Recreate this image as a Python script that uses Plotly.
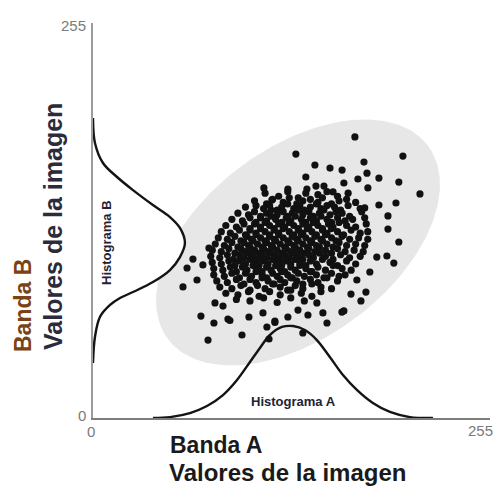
import numpy as np
import plotly.graph_objects as go

# ---------------- data (0-255 image values) ----------------
tick_labels = ["0", "255"]
axis_max = 255

# Histogram A (band A values vs. frequency, drawn along the bottom)
hist_a_x = [39.7, 51, 64.2, 75.5, 86.1, 95.4, 104, 110.6, 117.2, 125.2, 132.5, 140.4,
            148.3, 156.9, 165.6, 174.8, 185.4, 196.7, 210, 225.2]
hist_a_y = [0, 0.6, 3.2, 7.8, 14.9, 24.7, 36.4, 45.5, 53.9, 59.1, 59.7, 57.1,
            50.6, 39.6, 27.9, 18.2, 9.7, 3.9, 0.6, 0]

# Histogram B (band B values vs. frequency, drawn along the left side)
hist_b_y = [194.8, 178.6, 165.6, 156.5, 148, 138.3, 130.5, 123.4, 113.6, 104.5, 96.1,
            88.3, 81.8, 77.9, 73.4, 65.6, 52.6, 35.7]
hist_b_x = [0, 1.3, 6.6, 15.9, 26.5, 39.7, 51, 57.6, 60.9, 57.6, 51,
            39.7, 26.5, 17.9, 11.3, 4.6, 1.3, 0]

# Sparse pixels around the cluster
outer_x = [173.5, 134.4, 205.3, 147, 179.5, 157, 165, 181.5, 141, 189.4, 175.5, 202.6,
           113.2, 129.1, 141.7, 147.7, 153, 166.2, 182.1, 216.6, 200.7, 189.4, 118.5, 159,
           195.4, 202.6, 195.4, 188, 194.7, 199.3, 183.4, 174.8, 180.8, 177.5, 170.9, 166.2,
           180, 76.8, 66.2, 62.3, 59.6, 71.5, 80.1, 76.2, 98.7, 103.3, 89.4, 86.1, 80.8,
           68.9, 72.8, 112.6, 120.5, 115.2, 129.1, 135.8, 142.4, 152.3, 155, 164.9, 148.3,
           116.6, 139, 90.7, 120.5]
outer_y = [182.5, 171.4, 170.1, 164.3, 166.2, 162.3, 161, 159, 156.5, 155.8, 155.2, 153.2,
           149.4, 148.7, 148.7, 150.6, 150.6, 152.6, 149.4, 145.5, 139.6, 138.3, 141.6, 146.8,
           131.2, 114.3, 122.7, 104.5, 105.2, 100.6, 94.8, 89.6, 81.8, 76, 80.5, 69.5,
           136.4, 110.4, 103.2, 97.4, 85.1, 66.2, 61.7, 50.6, 53.9, 65.6, 64.3, 72.7, 74.7,
           89.6, 99.4, 68.2, 63, 59.1, 65.6, 70.1, 66.9, 68.2, 61.7, 68.8, 74.7,
           51.3, 55.2, 63.3, 62]

# Dense core of the cluster, row by row
core_x_rows = [
    [114, 123, 129, 136, 141, 149, 155, 162, 169],
    [107, 115, 119, 126, 130, 135, 139, 144, 149, 152, 158, 163, 168, 174],
    [101, 108, 113, 117, 122, 125, 129, 133, 137, 140, 144, 148, 151, 155, 160, 164, 169, 177],
    [96, 103, 107, 111, 115, 118, 122, 126, 129, 132, 136, 139, 143, 146, 150, 153, 157, 161, 165, 170, 178],
    [92, 99, 104, 108, 111, 115, 118, 121, 125, 128, 131, 134, 138, 141, 144, 148, 151, 155, 158, 162, 167, 172, 180],
    [88, 95, 100, 104, 107, 111, 114, 117, 120, 123, 127, 130, 133, 136, 139, 143, 146, 149, 152, 156, 159, 163, 168, 174, 181],
    [85, 91, 97, 101, 104, 108, 111, 114, 117, 120, 123, 126, 130, 133, 136, 139, 142, 145, 148, 152, 155, 158, 162, 166, 171, 177, 182],
    [83, 89, 94, 98, 102, 105, 108, 111, 114, 117, 120, 123, 126, 129, 132, 135, 138, 141, 144, 147, 151, 154, 158, 161, 165, 170, 176, 182],
    [81, 87, 92, 96, 100, 103, 106, 109, 112, 115, 118, 121, 124, 127, 130, 133, 136, 139, 142, 145, 148, 152, 155, 159, 163, 168, 174, 180],
    [79, 85, 90, 94, 98, 101, 104, 107, 110, 113, 116, 119, 122, 125, 128, 131, 134, 137, 140, 143, 147, 150, 154, 158, 162, 167, 173, 179],
    [78, 84, 89, 93, 97, 100, 103, 106, 109, 112, 115, 118, 121, 124, 127, 130, 133, 136, 139, 143, 146, 150, 154, 159, 164, 170, 177],
    [79, 85, 90, 94, 97, 101, 104, 107, 110, 113, 116, 119, 122, 125, 128, 131, 134, 137, 141, 144, 148, 152, 157, 162, 168, 174],
    [80, 86, 91, 95, 99, 102, 106, 109, 112, 115, 118, 121, 124, 127, 131, 134, 137, 141, 145, 149, 154, 159, 165, 171],
    [80, 87, 92, 97, 101, 105, 108, 112, 115, 119, 122, 125, 129, 132, 136, 140, 144, 148, 153, 158, 163, 167],
    [82, 89, 95, 100, 104, 108, 112, 116, 120, 124, 127, 131, 135, 139, 144, 149, 155, 162],
    [84, 92, 98, 104, 109, 114, 119, 124, 129, 134, 139, 145, 151, 158],
    [88, 96, 103, 110, 117, 124, 131, 138, 145, 151],
    [95, 104, 113, 122, 131, 140],
]
core_y_rows = [
    [146, 144, 147, 143, 146, 145, 147, 144, 146],
    [141, 139, 142, 140, 143, 139, 141, 142, 140, 143, 139, 141, 142, 140],
    [137, 138, 136, 138, 135, 137, 139, 136, 138, 135, 137, 139, 136, 138, 137, 135, 138, 136],
    [133, 132, 134, 131, 133, 135, 132, 134, 131, 133, 135, 132, 134, 131, 133, 135, 132, 134, 133, 131, 134],
    [129, 128, 130, 127, 130, 128, 131, 129, 127, 130, 128, 131, 129, 127, 130, 128, 131, 129, 127, 130, 128, 129, 130],
    [125, 124, 126, 123, 126, 124, 127, 125, 123, 126, 124, 127, 125, 123, 126, 124, 127, 125, 123, 126, 124, 127, 125, 124, 126],
    [121, 120, 122, 119, 122, 120, 123, 121, 119, 122, 120, 123, 121, 119, 122, 120, 123, 121, 119, 122, 120, 123, 121, 119, 122, 120, 121],
    [117, 116, 118, 115, 118, 116, 119, 117, 115, 118, 116, 119, 117, 115, 118, 116, 119, 117, 115, 118, 116, 119, 117, 115, 118, 116, 117, 116],
    [113, 112, 114, 111, 114, 112, 115, 113, 111, 114, 112, 115, 113, 111, 114, 112, 115, 113, 111, 114, 112, 115, 113, 111, 114, 112, 113, 112],
    [109, 108, 110, 107, 110, 108, 111, 109, 107, 110, 108, 111, 109, 107, 110, 108, 111, 109, 107, 110, 108, 111, 109, 107, 110, 108, 109, 108],
    [105, 104, 106, 103, 106, 104, 107, 105, 103, 106, 104, 107, 105, 103, 106, 104, 107, 105, 103, 106, 104, 107, 105, 103, 106, 104, 105],
    [101, 100, 102, 99, 102, 100, 103, 101, 99, 102, 100, 103, 101, 99, 102, 100, 103, 101, 99, 102, 100, 103, 101, 99, 102, 100],
    [97, 96, 98, 95, 98, 96, 99, 97, 95, 98, 96, 99, 97, 95, 98, 96, 99, 97, 95, 98, 96, 99, 97, 96],
    [93, 92, 94, 91, 94, 92, 95, 93, 91, 94, 92, 95, 93, 91, 94, 92, 95, 93, 91, 94, 92, 93],
    [89, 88, 90, 87, 90, 88, 91, 89, 87, 90, 88, 91, 89, 87, 90, 88, 91, 89],
    [85, 84, 86, 83, 86, 84, 87, 85, 83, 86, 84, 87, 85, 84],
    [81, 80, 82, 79, 82, 80, 83, 81, 79, 82],
    [77, 76, 78, 75, 78, 76],
]
core_x = [v for row in core_x_rows for v in row]
core_y = [v for row in core_y_rows for v in row]

# ---------------- styling / geometry ----------------
W, H = 495, 487
ML, MT = 93, 23
MR = W - 490
MB = H - 418
X_RANGE = [0, 263]
Y_RANGE = [0, 256.5]
PW, PH = W - ML - MR, H - MT - MB
sx = PW / (X_RANGE[1] - X_RANGE[0])   # px per unit
sy = PH / (Y_RANGE[1] - Y_RANGE[0])

FONT = "Liberation Sans, Arial, sans-serif"

# Light-grey ellipse behind the cluster (parameters in pixels)
ell_cx, ell_cy = 135.8, 114.0
ell_a, ell_b, ell_ang = 162, 95, np.deg2rad(36.5)
t = np.linspace(0, 2 * np.pi, 240)
u, v = ell_a * np.cos(t), ell_b * np.sin(t)
ell_x = ell_cx + (u * np.cos(ell_ang) - v * np.sin(ell_ang)) / sx
ell_y = ell_cy + (u * np.sin(ell_ang) + v * np.cos(ell_ang)) / sy

fig = go.Figure()

fig.add_trace(go.Scatter(x=ell_x, y=ell_y, mode="lines", fill="toself",
                         fillcolor="#e7e7e7", line=dict(width=0), hoverinfo="skip"))

# white interior of histogram B (covers ellipse edge)
fig.add_trace(go.Scatter(x=hist_b_x, y=hist_b_y, mode="lines", fill="toself",
                         fillcolor="white", line=dict(width=0, shape="spline"),
                         hoverinfo="skip"))

fig.add_trace(go.Scatter(x=hist_a_x, y=hist_a_y, mode="lines",
                         line=dict(color="#141414", width=2.4, shape="spline", smoothing=1)))
fig.add_trace(go.Scatter(x=hist_b_x, y=hist_b_y, mode="lines",
                         line=dict(color="#141414", width=2.4, shape="spline", smoothing=1)))

fig.add_trace(go.Scatter(x=outer_x + core_x, y=outer_y + core_y, mode="markers",
                         marker=dict(color="#111111", size=7.2, line=dict(width=0))))

annotations = []

def add_text(text, px, py, size, color, angle=0, bold=False, xanchor="center"):
    # px, py are page pixel positions
    xp = (px - ML) / PW
    yp = (H - MB - py) / PH
    annotations.append(dict(
        x=xp, y=yp, xref="paper", yref="paper", text=f"<b>{text}</b>" if bold else text,
        showarrow=False, textangle=angle, xanchor=xanchor, yanchor="middle",
        font=dict(family=FONT, size=size, color=color)))

# tick labels
add_text(tick_labels[1], 73, 25, 15, "#7a7a7a")
add_text(tick_labels[0], 82, 415, 15, "#7a7a7a")
add_text(tick_labels[0], 91, 431, 15, "#7a7a7a")
add_text(tick_labels[1], 480, 430, 15, "#7a7a7a")

# histogram labels
add_text("Histograma A", 293, 401, 13, "#222233", bold=True)
add_text("Histograma B", 106, 243, 13, "#222233", angle=-90, bold=True)

# axis titles
add_text("Banda A", 168, 445, 23, "#1a1a1a", bold=True, xanchor="left")
add_text("Valores de la imagen", 167, 472, 24, "#1a1a1a", bold=True, xanchor="left")
add_text("Banda B", 23, 306, 23, "#7a4315", angle=-90, bold=True)
add_text("Valores de la imagen", 53, 227, 25, "#2b2b3b", angle=-90, bold=True)

fig.update_layout(
    width=W, height=H,
    margin=dict(l=ML, r=MR, t=MT, b=MB, pad=0),
    paper_bgcolor="white", plot_bgcolor="white",
    showlegend=False,
    annotations=annotations,
    xaxis=dict(range=X_RANGE, showgrid=False, zeroline=False, showticklabels=False,
               ticks="", showline=True, linecolor="#7d7d7d", linewidth=2, fixedrange=True),
    yaxis=dict(range=Y_RANGE, showgrid=False, zeroline=False, showticklabels=False,
               ticks="", showline=True, linecolor="#9c9c9c", linewidth=2, fixedrange=True),
)

fig.write_html(
    "out.html",
    config={"displayModeBar": False},
    post_script="document.body.style.margin='0';document.body.style.overflow='hidden';",
)
